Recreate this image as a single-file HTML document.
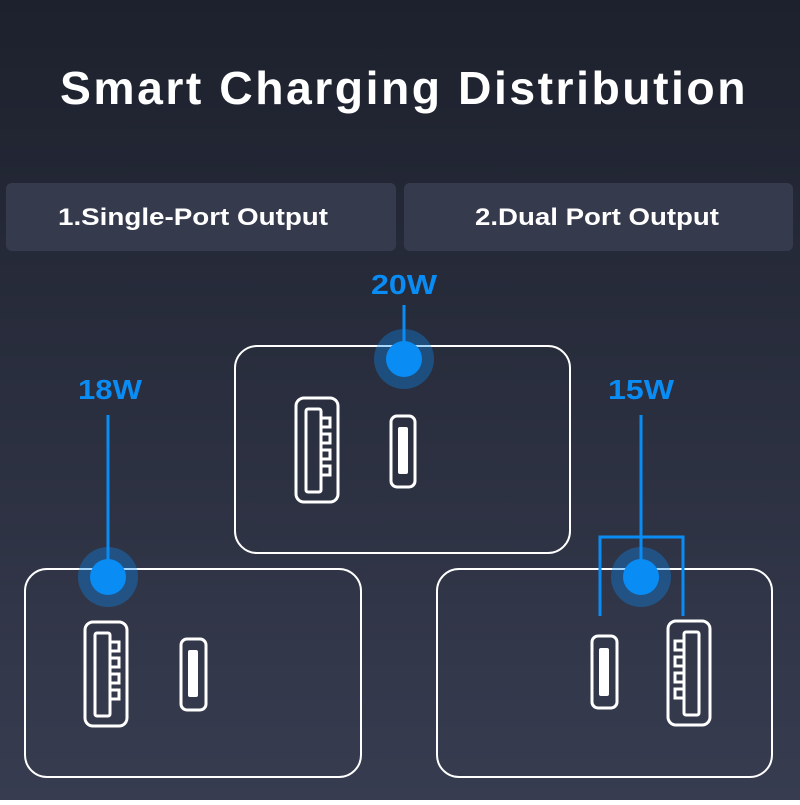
<!DOCTYPE html>
<html><head><style>body{margin:0;width:800px;height:800px;overflow:hidden}</style></head><body>
<svg width="800" height="800" xmlns="http://www.w3.org/2000/svg" font-family="Liberation Sans, sans-serif">
<defs><linearGradient id="bg" x1="0" y1="0" x2="0" y2="1"><stop offset="0" stop-color="#1d212d"/><stop offset="1" stop-color="#373c50"/></linearGradient></defs>
<rect width="800" height="800" fill="url(#bg)"/>
<text x="404" y="104" fill="#fff" font-size="46" font-weight="bold" text-anchor="middle" letter-spacing="2.5" textLength="688" lengthAdjust="spacingAndGlyphs">Smart Charging Distribution</text>
<rect x="6" y="183" width="390" height="68" rx="6" fill="#363a4d"/>
<rect x="404" y="183" width="389" height="68" rx="6" fill="#363a4d"/>
<text x="193" y="225" fill="#fff" font-size="24" font-weight="bold" text-anchor="middle" textLength="270" lengthAdjust="spacingAndGlyphs">1.Single-Port Output</text>
<text x="597" y="225" fill="#fff" font-size="24" font-weight="bold" text-anchor="middle" textLength="244" lengthAdjust="spacingAndGlyphs">2.Dual Port Output</text>
<g fill="none" stroke="#fff" stroke-width="2">
<rect x="235" y="346" width="335" height="207" rx="22"/>
<rect x="25" y="569" width="336" height="208" rx="22"/>
<rect x="437" y="569" width="335" height="208" rx="22"/>
</g>
<g stroke="#0a8cf5" stroke-width="3" fill="none">
<line x1="404" y1="305" x2="404" y2="350"/>
<line x1="108" y1="415" x2="108" y2="570"/>
<line x1="641" y1="415" x2="641" y2="570"/>
<polyline points="600,616 600,537 683,537 683,616"/>
</g>
<g fill="#0a8cf5">
<circle cx="404" cy="359" r="30" opacity="0.35"/><circle cx="404" cy="359" r="18"/>
<circle cx="108" cy="577" r="30" opacity="0.35"/><circle cx="108" cy="577" r="18"/>
<circle cx="641" cy="577" r="30" opacity="0.35"/><circle cx="641" cy="577" r="18"/>
</g>
<g fill="#0a8cf5" font-size="28" font-weight="bold" text-anchor="middle">
<text x="404" y="294" textLength="66" lengthAdjust="spacingAndGlyphs">20W</text><text x="110" y="399" textLength="64" lengthAdjust="spacingAndGlyphs">18W</text><text x="641" y="399" textLength="66" lengthAdjust="spacingAndGlyphs">15W</text>
</g>
<g fill="none" stroke="#fff" stroke-width="3">
<rect x="296" y="398" width="42" height="104" rx="8"/>
<rect x="306" y="409" width="15" height="83" rx="2"/>
<rect x="321" y="418" width="9" height="9"/><rect x="321" y="434" width="9" height="9"/><rect x="321" y="450" width="9" height="9"/><rect x="321" y="466" width="9" height="9"/>
<rect x="391" y="416" width="24" height="71" rx="6"/>
<rect x="85" y="622" width="42" height="104" rx="8"/>
<rect x="95" y="633" width="15" height="83" rx="2"/>
<rect x="110" y="642" width="9" height="9"/><rect x="110" y="658" width="9" height="9"/><rect x="110" y="674" width="9" height="9"/><rect x="110" y="690" width="9" height="9"/>
<rect x="181" y="639" width="25" height="71" rx="6"/>
<rect x="668" y="621" width="42" height="104" rx="8"/>
<rect x="684" y="632" width="15" height="83" rx="2"/>
<rect x="675" y="641" width="9" height="9"/><rect x="675" y="657" width="9" height="9"/><rect x="675" y="673" width="9" height="9"/><rect x="675" y="689" width="9" height="9"/>
<rect x="592" y="636" width="25" height="72" rx="6"/>
</g>
<g fill="#fff">
<rect x="398" y="427" width="10" height="47" rx="2"/>
<rect x="188" y="650" width="10" height="47" rx="2"/>
<rect x="599" y="648" width="10" height="48" rx="2"/>
</g>
</svg>
</body></html>
